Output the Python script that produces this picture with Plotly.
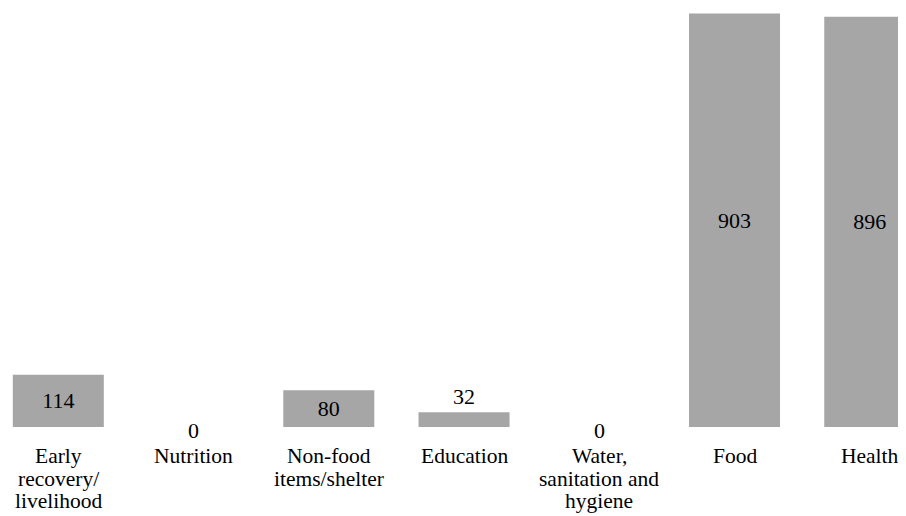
import plotly.graph_objects as go

categories = [
    ["Early", "recovery/", "livelihood"],
    ["Nutrition"],
    ["Non-food", "items/shelter"],
    ["Education"],
    ["Water,", "sanitation and", "hygiene"],
    ["Food"],
    ["Health"],
]
values = [114, 0, 80, 32, 0, 903, 896]

FONT = "Liberation Serif, Times New Roman, serif"
BAR_COLOR = "#A6A6A6"

xs = list(range(len(values)))

fig = go.Figure()
fig.add_trace(go.Bar(
    x=xs,
    y=values,
    marker=dict(color=BAR_COLOR, line=dict(width=0)),
    text=[str(v) if v > 0 else "" for v in values],
    textposition="auto",
    insidetextanchor="middle",
    textfont=dict(family=FONT, size=22, color="black"),
    insidetextfont=dict(family=FONT, size=22, color="black"),
    outsidetextfont=dict(family=FONT, size=22, color="black"),
    cliponaxis=False,
    hoverinfo="skip",
))

annotations = []
for i, (lines, v) in enumerate(zip(categories, values)):
    for k, line in enumerate(lines):
        annotations.append(dict(
            x=i, xref="x", y=0, yref="paper",
            text=line, showarrow=False,
            xanchor="center", yanchor="middle",
            yshift=-(29 + 22.5 * k),
            font=dict(family=FONT, size=21.5, color="black"),
        ))
    if v == 0:
        annotations.append(dict(
            x=i, xref="x", y=v, yref="y",
            text=str(v), showarrow=False,
            xanchor="center", yanchor="middle",
            yshift=-3,
            font=dict(family=FONT, size=22, color="black"),
        ))

fig.update_layout(
    width=898, height=508,
    margin=dict(l=0, r=0, t=0, b=89, pad=0),
    paper_bgcolor="white", plot_bgcolor="white",
    bargap=0.327,
    showlegend=False,
    xaxis=dict(range=[-0.372, 6.268], showticklabels=False, showgrid=False,
               zeroline=False, showline=False, ticks=""),
    yaxis=dict(range=[0, 915], showticklabels=False, showgrid=False,
               zeroline=False, showline=False, ticks=""),
    annotations=annotations,
    font=dict(family=FONT, size=22, color="black"),
)

fig.write_html("out.html")
